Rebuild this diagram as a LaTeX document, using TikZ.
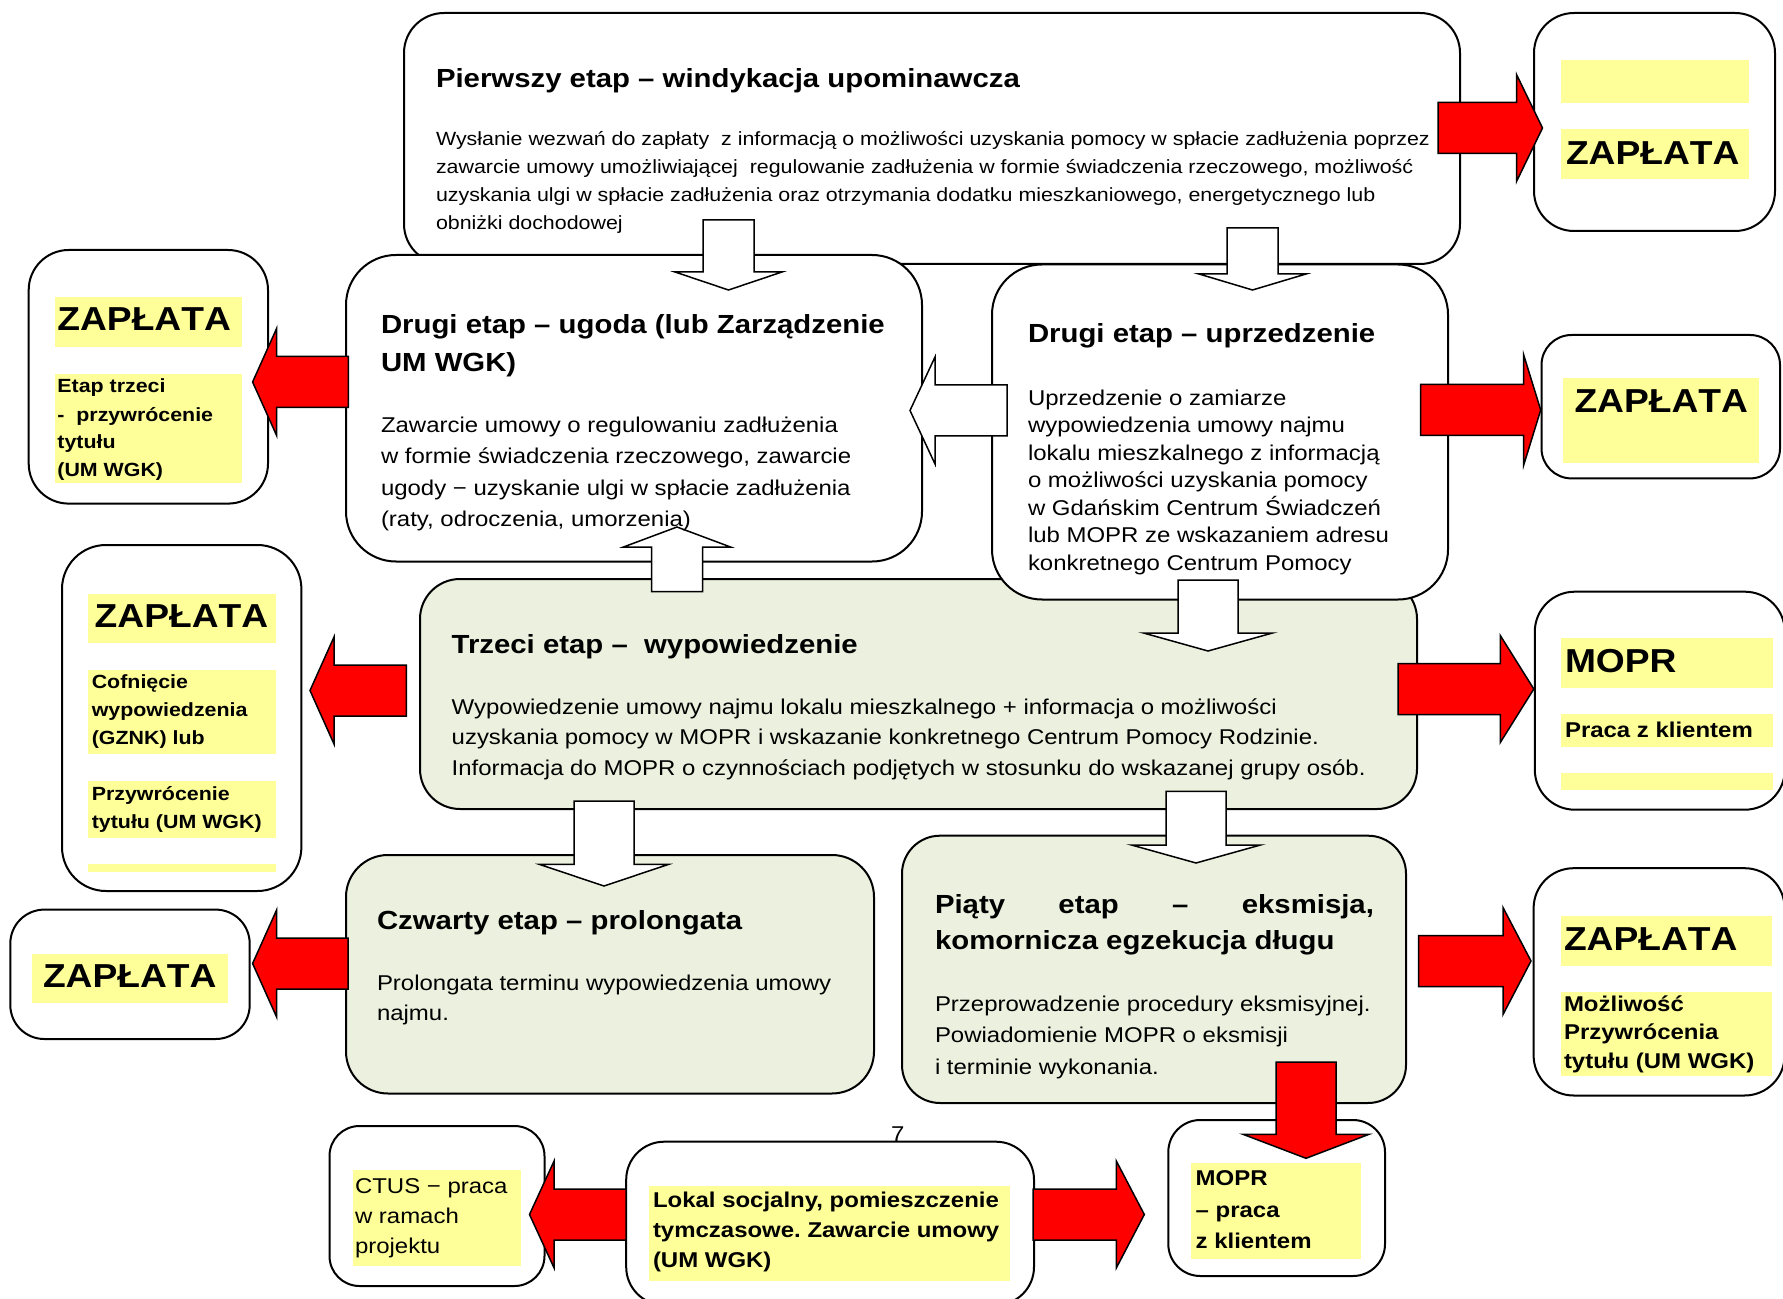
\documentclass[tikz,border=0pt]{standalone}
\usepackage{fontspec}
\setmainfont{Liberation Sans}[FakeStretch=1.12]
\frenchspacing
\usetikzlibrary{calc}

\definecolor{noteyellow}{HTML}{FFFF99}
\definecolor{stagegreen}{HTML}{EBF1DE}
\definecolor{arrowred}{HTML}{FF0000}

\tikzset{
  boxsize/.style 2 args={minimum width=#1*0.5pt, minimum height=#2*0.5pt},
  stage/.style={draw, line width=1pt, fill=white, rounded corners=#1,
    anchor=north west, inner sep=0pt, outer sep=0pt},
  stage/.default=20pt,
  greenstage/.style={stage=#1, fill=stagegreen},
  greenstage/.default=20pt,
  hilite/.style={fill=noteyellow, anchor=north west, inner sep=0pt, outer sep=0pt},
  % multi-line texts are placed at the base line of their last line
  txt/.style={anchor=base west, inner sep=0pt, outer sep=0pt, align=left},
  stagetitle/.style={txt, font=\fontsize{13.1}{#1}\selectfont\bfseries},
  stagetitle/.default=18.7pt,
  stagebody/.style={txt, font=\fontsize{10.7}{#1}\selectfont},
  stagebody/.default=15pt,
  bigword/.style={txt, font=\fontsize{16.6}{20}\selectfont\bfseries\addfontfeatures{Kerning=Off}},
  smallnote/.style={txt, font=\fontsize{9.55}{14}\selectfont\bfseries},
  boldnote/.style={txt, font=\fontsize{10.7}{#1}\selectfont\bfseries},
  boldnote/.default=15pt,
  arrowshaft/.store in=\arrshaft,
  arrowhead/.store in=\arrhead,
  arrowtip/.store in=\arrtip,
  redarrow/.style={fill=arrowred, draw=black, line width=0.75pt,
    arrowshaft=25.5, arrowhead=53.5, arrowtip=24},
  whitearrow/.style={fill=white, draw=black, line width=0.75pt,
    arrowshaft=25.5, arrowhead=53.5, arrowtip=18},
  widearrow/.style={whitearrow, arrowshaft=30, arrowhead=64.5},
}

% block arrow from tail #2 to tip #3
\newcommand\blockarrow[3][]{%
  \begin{scope}[#1]
    \coordinate (ta) at #2;
    \coordinate (tb) at #3;
    \coordinate (hb) at ($(tb)!\arrtip*0.5pt!(ta)$);
    \filldraw ($(ta)!\arrshaft*0.5pt!90:(tb)$) -- ($(hb)!\arrshaft*0.5pt!90:(tb)$)
      -- ($(hb)!\arrhead*0.5pt!90:(tb)$) -- (tb)
      -- ($(hb)!\arrhead*0.5pt!-90:(tb)$) -- ($(hb)!\arrshaft*0.5pt!-90:(tb)$)
      -- ($(ta)!\arrshaft*0.5pt!-90:(tb)$) -- cycle;
  \end{scope}}

\begin{document}
\begin{tikzpicture}[x=0.5pt, y=-0.5pt]
\useasboundingbox (0,0) rectangle (1783,1299);
\clip (0,0) rectangle (1783,1299);

% stages
\node[stage=20pt, boxsize={1056}{251}] (p1) at (404,13) {};
\node[greenstage=20pt, boxsize={997}{230}] (t3) at (420,579) {};
\node[stage=25pt, boxsize={576}{306.5}] (d1) at (346,255) {};
\node[stage=25pt, boxsize={456}{335}] (d2) at (992,264.5) {};
\node[greenstage=21pt, boxsize={528}{238.5}] (c4) at (346,855) {};
\node[greenstage=19pt, boxsize={504}{267.3}] (p5) at (902,835.7) {};

% side boxes
\node[stage=20pt, boxsize={241}{218}] (z1) at (1534,13) {};
\node[stage=20pt, boxsize={239.3}{253.6}] (z2) at (28.7,250) {};
\node[stage=15pt, boxsize={238.5}{143.4}] (z3) at (1541.5,335) {};
\node[stage=22pt, boxsize={239.4}{346}] (z4) at (62,545) {};
\node[stage=17pt, boxsize={239.4}{129.4}] (z5) at (10.3,909.6) {};
\node[stage=20pt, boxsize={250}{218}] (z6) at (1534.8,591.7) {};
\node[stage=20pt, boxsize={251}{227.3}] (z7) at (1533.6,868.2) {};
\node[stagebody] (pagenum) at (891,1141) {7};
\node[stage=15pt, boxsize={215}{160}] (ctus) at (329.5,1126) {};
\node[stage=19pt, boxsize={407.8}{163.3}] (lokal) at (626.2,1141.7) {};
\node[stage=16pt, boxsize={216.7}{156}] (z8) at (1168.3,1120) {};

% yellow marks
\node[hilite, boxsize={188}{43}] (z1a) at (1560.5,60) {};
\node[hilite, boxsize={188}{50}] (z1b) at (1560.5,129) {};
\node[hilite, boxsize={187.5}{49.5}] (z2a) at (54.5,297.5) {};
\node[hilite, boxsize={187.5}{109}] (z2b) at (54.5,374) {};
\node[hilite, boxsize={196}{85}] (z3a) at (1562.7,378) {};
\node[hilite, boxsize={188}{49.5}] (z4a) at (88,593.5) {};
\node[hilite, boxsize={188}{84.2}] (z4b) at (88,669.8) {};
\node[hilite, boxsize={188}{57}] (z4c) at (88,780.8) {};
\node[hilite, boxsize={188}{8.3}] (z4d) at (88,863.7) {};
\node[hilite, boxsize={196.4}{49.5}] (z5a) at (31.6,953.7) {};
\node[hilite, boxsize={212}{50.5}] (z6a) at (1560.7,637.5) {};
\node[hilite, boxsize={212}{32.7}] (z6b) at (1560.7,714.3) {};
\node[hilite, boxsize={212}{17}] (z6c) at (1560.7,772.8) {};
\node[hilite, boxsize={211}{50}] (z7a) at (1560.7,916.4) {};
\node[hilite, boxsize={211}{83.3}] (z7b) at (1560.7,992.2) {};
\node[hilite, boxsize={168.4}{95.7}] (ctusa) at (352.6,1170) {};
\node[hilite, boxsize={361.4}{95}] (lokala) at (648.6,1185.7) {};
\node[hilite, boxsize={170}{95.4}] (z8a) at (1191,1163.3) {};

% red arrows
\blockarrow[redarrow, arrowtip=26]{($(p1.east|-0,128)+(-22,0)$)}{($(z1.west|-0,128)+(8.5,0)$)}
\blockarrow[redarrow]{($(d1.west|-0,382)+(2.4,0)$)}{($(z2.east|-0,382)+(-15.4,0)$)}
\blockarrow[redarrow, arrowhead=55, arrowtip=17]{($(d2.east|-0,410)+(-27.3,0)$)}{($(z3.west|-0,410)+(-0.8,0)$)}
\blockarrow[redarrow]{($(t3.west|-0,690.5)+(-13.6,0)$)}{($(z4.east|-0,690.5)+(8.6,0)$)}
\blockarrow[redarrow]{($(c4.west|-0,963.5)+(2,0)$)}{($(z5.east|-0,963.5)+(2.9,0)$)}
\blockarrow[redarrow, arrowtip=33.5]{($(t3.east|-0,689)+(-19,0)$)}{($(z6.west|-0,689)+(-1,0)$)}
\blockarrow[redarrow, arrowtip=28]{($(p5.east|-0,961)+(12.5,0)$)}{($(z7.west|-0,961)+(-2.6,0)$)}
\blockarrow[redarrow, arrowshaft=30, arrowhead=63]{($(p5.south-|1306,0)+(0,-41)$)}{($(z8.north-|1306,0)+(0,38.3)$)}
\blockarrow[redarrow, arrowtip=24.6]{(lokal.west|-0,1214.5)}{($(ctus.east|-0,1214.5)+(-15,0)$)}
\blockarrow[redarrow, arrowtip=28]{($(lokal.east|-0,1214.5)+(-1,0)$)}{($(z8.west|-0,1214.5)+(-24,0)$)}

% white arrows
\blockarrow[whitearrow]{($(p1.south-|728.5,0)+(0,-44)$)}{($(d1.north-|728.5,0)+(0,35)$)}
\blockarrow[whitearrow, arrowtip=16]{($(p1.south-|1252.5,0)+(0,-36)$)}{($(d2.north-|1252.5,0)+(0,25.5)$)}
\blockarrow[whitearrow, arrowtip=25]{($(d2.west|-0,410.5)+(15,0)$)}{($(d1.east|-0,410.5)+(-12,0)$)}
\blockarrow[widearrow, arrowtip=21.6]{($(t3.south-|604,0)+(0,-8)$)}{($(c4.north-|604,0)+(0,31)$)}
\blockarrow[whitearrow, arrowtip=20]{($(t3.north-|677,0)+(0,12.5)$)}{($(d1.south-|677,0)+(0,-34.5)$)}
\blockarrow[widearrow]{($(d2.south-|1208,0)+(0,-19.5)$)}{($(t3.north-|1208,0)+(0,72)$)}
\blockarrow[widearrow]{($(t3.south-|1196,0)+(0,-17.6)$)}{($(p5.north-|1196,0)+(0,27.3)$)}

% stage texts
\node[stagetitle] (p1title) at (436,88) {Pierwszy etap – windykacja upominawcza};
\node[txt, font=\fontsize{9.55}{14.15}\selectfont] (p1text) at (436,230)
  {Wysłanie wezwań do zapłaty\ \ z informacją o możliwości uzyskania pomocy w spłacie zadłużenia poprzez\\
   zawarcie umowy umożliwiającej\ \ regulowanie zadłużenia w formie świadczenia rzeczowego, możliwość\\
   uzyskania ulgi w spłacie zadłużenia oraz otrzymania dodatku mieszkaniowego, energetycznego lub\\
   obniżki dochodowej};
\node[stagetitle] (d1title) at (381,371.4) {Drugi etap – ugoda (lub Zarządzenie\\UM WGK)};
\node[stagebody=15.75pt] (d1text) at (381,526.5)
  {Zawarcie umowy o regulowaniu zadłużenia\\w formie świadczenia rzeczowego, zawarcie\\
   ugody − uzyskanie ulgi w spłacie zadłużenia\\(raty, odroczenia, umorzenia)};
\node[stagetitle] (d2title) at (1028,342.5) {Drugi etap – uprzedzenie};
\node[stagebody=13.75pt] (d2text) at (1028,570)
  {Uprzedzenie o zamiarze\\wypowiedzenia umowy najmu\\lokalu mieszkalnego z informacją\\
   o możliwości uzyskania pomocy\\w Gdańskim Centrum Świadczeń\\lub MOPR ze wskazaniem adresu\\
   konkretnego Centrum Pomocy};
\node[stagetitle] (t3title) at (451.7,653.3) {Trzeci etap –\ \ wypowiedzenie};
\node[stagebody=15.3pt] (t3text) at (451.7,775.2)
  {Wypowiedzenie umowy najmu lokalu mieszkalnego + informacja o możliwości\\
   uzyskania pomocy w MOPR i wskazanie konkretnego Centrum Pomocy Rodzinie.\\
   Informacja do MOPR o czynnościach podjętych w stosunku do wskazanej grupy osób.};
\node[stagetitle] (c4title) at (377,929) {Czwarty etap – prolongata};
\node[stagebody=15pt] (c4text) at (377,1020) {Prolongata terminu wypowiedzenia umowy\\najmu.};
\node[stagetitle=18pt] (p5title) at (935,949)
  {\makebox[219.5pt][s]{Piąty etap – eksmisja,}\\komornicza egzekucja długu};
\node[stagebody=15.8pt] (p5text) at (935,1074.2)
  {Przeprowadzenie procedury eksmisyjnej.\\Powiadomienie MOPR o eksmisji\\i terminie wykonania.};

% side texts
\node[bigword] (z1word) at (1566,164.6) {ZAPŁATA};
\node[bigword] (z2word) at (57.4,331) {ZAPŁATA};
\node[smallnote] (z2text) at (57.4,477) {Etap trzeci\\-\ \ przywrócenie\\tytułu\\(UM WGK)};
\node[bigword] (z3word) at (1574.5,413) {ZAPŁATA};
\node[bigword] (z4word) at (94.7,627.6) {ZAPŁATA};
\node[smallnote] (z4text) at (91.8,744.8) {Cofnięcie\\wypowiedzenia\\(GZNK) lub};
\node[smallnote] (z4back) at (91.8,828.2) {Przywrócenie\\tytułu (UM WGK)};
\node[bigword] (z5word) at (43,987) {ZAPŁATA};
\node[bigword] (z6word) at (1565,672.6) {MOPR};
\node[boldnote] (z6text) at (1565,737.4) {Praca z klientem};
\node[bigword] (z7word) at (1564,950) {ZAPŁATA};
\node[boldnote=14.25pt] (z7text) at (1564,1068) {Możliwość\\Przywrócenia\\tytułu (UM WGK)};
\node[stagebody=15pt] (ctustext) at (355,1253.3) {CTUS − praca\\w ramach\\projektu};
\node[boldnote=15pt] (lokaltext) at (653,1267.7) {Lokal socjalny, pomieszczenie\\tymczasowe. Zawarcie umowy\\(UM WGK)};
\node[boldnote=15.7pt] (z8text) at (1195.7,1248.5) {MOPR\\– praca\\z klientem};
\end{tikzpicture}
\end{document}
